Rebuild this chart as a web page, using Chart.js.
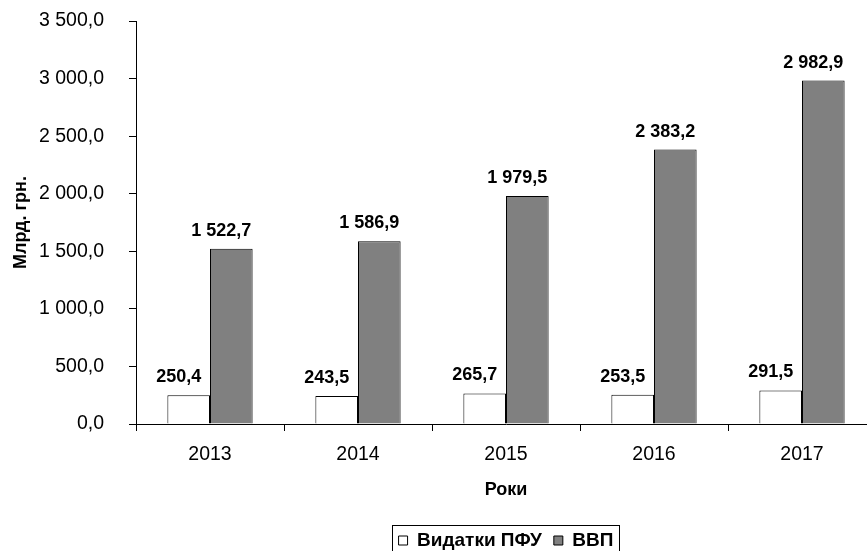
<!DOCTYPE html>
<html>
<head>
<meta charset="utf-8">
<script src="https://cdn.jsdelivr.net/npm/chart.js@4/dist/chart.umd.min.js"></script>
<style>
html,body{margin:0;padding:0;background:#fff;overflow:hidden;width:867px;height:551px;}
#wrap{position:absolute;left:0;top:0;width:876px;height:560px;}
</style>
</head>
<body>
<div id="wrap"><canvas id="c" width="876" height="560"></canvas></div>
<script>
const years = ['2013', '2014', '2015', '2016', '2017'];
const pfuSpending = [250.4, 243.5, 265.7, 253.5, 291.5];
const gdp = [1522.7, 1586.9, 1979.5, 2383.2, 2982.9];
const seriesNames = ['Видатки ПФУ', 'ВВП'];
const yTitle = 'Млрд. грн.';
const xTitle = 'Роки';

const FONT = "'Liberation Sans', Arial, sans-serif";

function fmt(v) {
  const s = v.toFixed(1).split('.');
  const intPart = s[0].replace(/\B(?=(\d{3})+(?!\d))/g, ' ');
  return intPart + ',' + s[1];
}

const valueLabels = {
  id: 'valueLabels',
  afterDatasetsDraw(chart) {
    const ctx = chart.ctx;
    ctx.save();
    ctx.font = "bold 18px " + FONT;
    ctx.fillStyle = '#000';
    ctx.textAlign = 'center';
    ctx.textBaseline = 'alphabetic';
    chart.data.datasets.forEach((ds, di) => {
      const meta = chart.getDatasetMeta(di);
      meta.data.forEach((bar, i) => {
        ctx.fillText(fmt(ds.data[i]), bar.x - 10, bar.y - 13);
      });
    });
    ctx.restore();
  }
};

const legendBorder = {
  id: 'legendBorder',
  afterDraw(chart) {
    const lg = chart.legend;
    if (!lg || !lg.legendHitBoxes || !lg.legendHitBoxes.length) return;
    let l = Infinity, r = -Infinity, cy = 0;
    lg.legendHitBoxes.forEach(b => {
      l = Math.min(l, b.left);
      r = Math.max(r, b.left + b.width);
      cy = b.top + b.height / 2;
    });
    const ctx = chart.ctx;
    ctx.save();
    ctx.strokeStyle = '#000';
    ctx.lineWidth = 1;
    ctx.strokeRect(Math.round(l - 7) + 0.5, Math.round(cy - 16) + 0.5, Math.round(r - l + 12), 32);
    ctx.restore();
  }
};

new Chart(document.getElementById('c'), {
  type: 'bar',
  data: {
    labels: years,
    datasets: [
      { label: seriesNames[0], data: pfuSpending, backgroundColor: '#ffffff', borderColor: '#000000', borderWidth: 1 },
      { label: seriesNames[1], data: gdp, backgroundColor: '#808080', borderColor: '#000000', borderWidth: 1 }
    ]
  },
  options: {
    responsive: false,
    animation: false,
    devicePixelRatio: 1,
    categoryPercentage: 0.576,
    barPercentage: 1,
    layout: { padding: { top: 21, left: 0, right: 0, bottom: 0 } },
    plugins: {
      tooltip: { enabled: false },
      legend: {
        position: 'bottom',
        fullSize: false,
        labels: {
          font: { family: FONT, size: 19, weight: 'bold' },
          color: '#000',
          boxWidth: 9,
          boxHeight: 9,
          padding: 12
        }
      }
    },
    scales: {
      x: {
        afterFit(s) { s.height = 95; },
        grid: { display: true, drawOnChartArea: false, drawTicks: true, tickLength: 7, color: '#000', offset: true },
        border: { display: true, color: '#000', width: 1 },
        ticks: { font: { family: FONT, size: 19.5 }, color: '#000', padding: 12 },
        title: { display: true, text: xTitle, font: { family: FONT, size: 18, weight: 'bold' }, color: '#000', padding: { top: 10, bottom: 18 } }
      },
      y: {
        min: 0,
        max: 3500,
        afterFit(s) { s.width = 136; s.paddingTop = 0; s.paddingBottom = 0; },
        grid: { display: true, drawOnChartArea: false, drawTicks: true, tickLength: 7, color: '#000' },
        border: { display: true, color: '#000', width: 1 },
        ticks: { stepSize: 500, font: { family: FONT, size: 19.5 }, color: '#000', padding: 25, callback: v => fmt(v) },
        title: { display: true, text: yTitle, font: { family: FONT, size: 18, weight: 'bold' }, color: '#000', padding: { top: 10, bottom: 0 } }
      }
    }
  },
  plugins: [valueLabels, legendBorder]
});
</script>
</body>
</html>
